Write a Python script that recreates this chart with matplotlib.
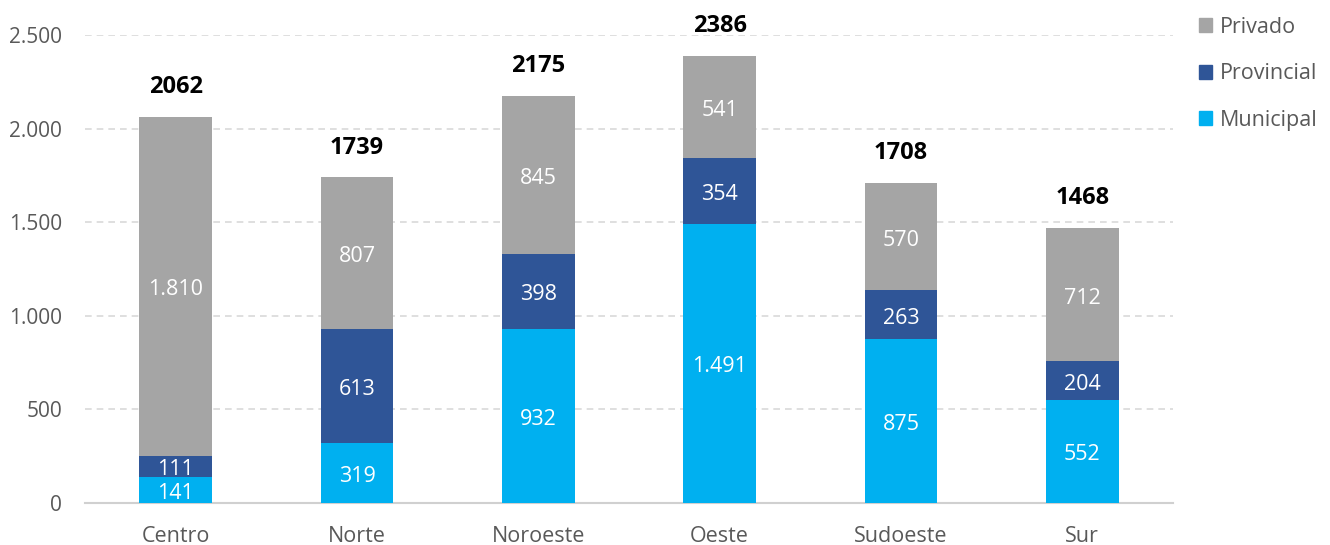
import matplotlib
matplotlib.use("Agg")
import matplotlib.pyplot as plt
from matplotlib.patches import Patch
import numpy as np

categories = ["Centro", "Norte", "Noroeste", "Oeste", "Sudoeste", "Sur"]
municipal = [141, 319, 932, 1491, 875, 552]
provincial = [111, 613, 398, 354, 263, 204]
privado = [1810, 807, 845, 541, 570, 712]
totals = [2062, 1739, 2175, 2386, 1708, 1468]
yticks = [0, 500, 1000, 1500, 2000, 2500]
ytick_labels = ["0", "500", "1.000", "1.500", "2.000", "2.500"]

c_mun = "#00B0F0"
c_prov = "#2F5597"
c_priv = "#A5A5A5"

plt.rcParams['font.family'] = ['Open Sans', 'DejaVu Sans']

fig = plt.figure(figsize=(13.3, 5.45), dpi=100)
ax = fig.add_axes([85/1330, 1-503/545, (1173-85)/1330, (503-35)/545])

x = np.arange(len(categories))
w = 0.4
mun = np.array(municipal)
prov = np.array(provincial)
priv = np.array(privado)

ax.bar(x, mun, w, color=c_mun, label="Municipal", zorder=3)
ax.bar(x, prov, w, bottom=mun, color=c_prov, label="Provincial", zorder=3)
ax.bar(x, priv, w, bottom=mun + prov, color=c_priv, label="Privado", zorder=3)

def fmt(v):
    return f"{v:,}".replace(",", ".")

def seg_label(xi, yc, v):
    ax.annotate(fmt(v), (xi, yc), xytext=(0, -2.5), textcoords="offset points",
                ha="center", va="center", color="white", fontsize=15.5, zorder=4)

for i in range(len(categories)):
    seg_label(x[i], mun[i] / 2, mun[i])
    seg_label(x[i], mun[i] + prov[i] / 2, prov[i])
    seg_label(x[i], mun[i] + prov[i] + priv[i] / 2, priv[i])
    ax.annotate(str(totals[i]), (x[i], totals[i]), xytext=(0, 21.5), textcoords="offset points",
                ha="center", va="center", fontsize=17, fontweight="bold", color="black", annotation_clip=False)

ax.set_xlim(-0.5, len(categories) - 0.5)
ax.set_ylim(0, 2500)
ax.set_yticks(yticks)
ax.set_yticklabels(ytick_labels)
ax.set_xticks(x)
ax.set_xticklabels(categories)
ax.tick_params(axis="y", length=0, labelsize=15, labelcolor="#595959", pad=16.5)
ax.tick_params(axis="x", length=0, labelsize=15.5, labelcolor="#595959", pad=16.5)
for s in ["top", "right", "left"]:
    ax.spines[s].set_visible(False)
ax.spines["bottom"].set_color("#D0D0D0")
ax.spines["bottom"].set_linewidth(1.5)
ax.yaxis.grid(True, color="#D9D9D9", linestyle=(0, (4, 3)), linewidth=1.2, zorder=0)
ax.set_axisbelow(True)
for gl in ax.yaxis.get_gridlines()[:1]:
    gl.set_visible(False)

handles = [Patch(color=c_priv), Patch(color=c_prov), Patch(color=c_mun)]
labels = ["Privado", "Provincial", "Municipal"]
fig.legend(handles, labels, loc="upper left", bbox_to_anchor=(1190/1330, 1-8/545),
           frameon=False, fontsize=15.5, handlelength=0.62, handleheight=0.62,
           handletextpad=0.35, labelspacing=1.19, labelcolor="#595959", borderaxespad=0)

fig.savefig("out.png", dpi=100)
